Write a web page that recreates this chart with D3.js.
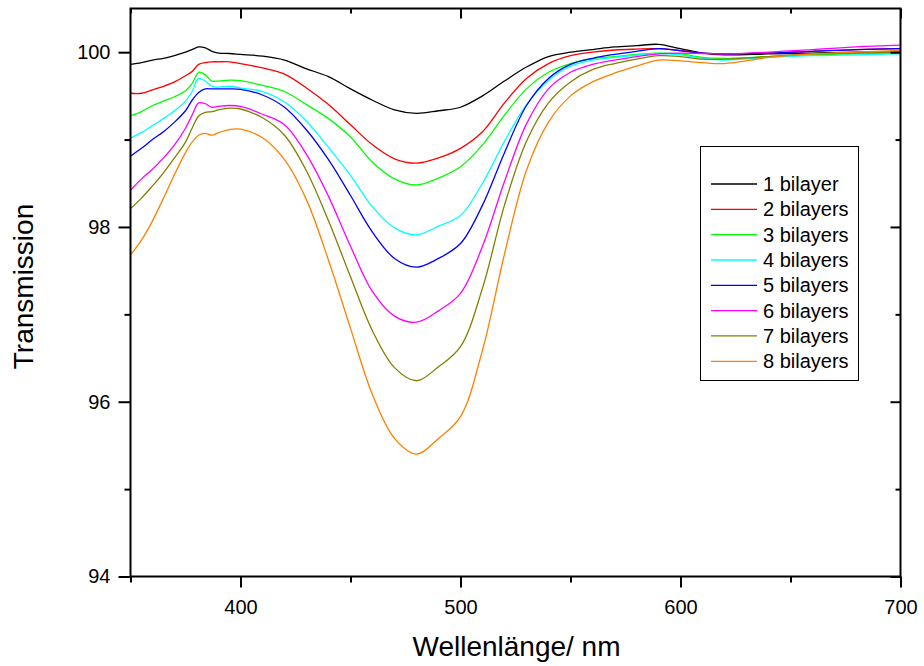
<!DOCTYPE html>
<html>
<head>
<meta charset="utf-8">
<script src="https://cdn.jsdelivr.net/npm/d3@7"></script>
<style>
  html, body { margin: 0; padding: 0; background: #fff; }
  svg { display: block; font-family: Arial, "Liberation Sans", sans-serif; }
</style>
</head>
<body>
<svg id="chart" width="924" height="666"></svg>
<script>
// Wavelength grid (nm)
const wavelengths = [350, 355, 360, 365, 370, 375, 378, 381, 384, 387, 390, 395, 400, 410, 420, 430, 440, 450, 460, 470, 480, 490, 500, 510, 520, 530, 540, 550, 560, 570, 580, 590, 600, 610, 620, 640, 660, 680, 700];

// Transmission (%) per number of bilayers
const bilayer1 = [99.86, 99.88, 99.91, 99.93, 99.96, 100.00, 100.03, 100.06, 100.05, 100.01, 99.99, 99.985, 99.975, 99.955, 99.91, 99.81, 99.72, 99.58, 99.45, 99.34, 99.30, 99.33, 99.37, 99.50, 99.67, 99.83, 99.95, 100.00, 100.03, 100.06, 100.075, 100.09, 100.04, 99.99, 99.97, 99.98, 99.99, 100.00, 100.00];
const bilayer2 = [99.53, 99.53, 99.57, 99.61, 99.66, 99.73, 99.78, 99.86, 99.88, 99.89, 99.89, 99.89, 99.87, 99.82, 99.75, 99.59, 99.40, 99.17, 98.94, 98.78, 98.73, 98.79, 98.90, 99.09, 99.42, 99.70, 99.87, 99.96, 100.00, 100.025, 100.035, 100.04, 100.02, 99.99, 99.98, 99.99, 100.01, 100.03, 100.04];
const bilayer3 = [99.27, 99.32, 99.39, 99.44, 99.49, 99.56, 99.64, 99.77, 99.74, 99.67, 99.67, 99.68, 99.675, 99.62, 99.55, 99.40, 99.24, 99.03, 98.74, 98.55, 98.48, 98.56, 98.69, 98.94, 99.28, 99.58, 99.77, 99.87, 99.925, 99.95, 99.975, 99.99, 99.98, 99.94, 99.93, 99.95, 99.97, 99.98, 99.99];
const bilayer4 = [99.02, 99.08, 99.16, 99.24, 99.33, 99.44, 99.55, 99.70, 99.67, 99.61, 99.60, 99.61, 99.59, 99.55, 99.43, 99.21, 98.91, 98.59, 98.23, 97.99, 97.91, 98.01, 98.13, 98.50, 98.98, 99.40, 99.68, 99.84, 99.91, 99.94, 99.965, 99.985, 99.97, 99.93, 99.91, 99.94, 99.96, 99.97, 99.98];
const bilayer5 = [98.81, 98.90, 99.00, 99.09, 99.20, 99.33, 99.45, 99.54, 99.58, 99.58, 99.58, 99.58, 99.575, 99.51, 99.37, 99.11, 98.77, 98.36, 97.94, 97.64, 97.54, 97.64, 97.81, 98.25, 98.85, 99.39, 99.70, 99.86, 99.93, 99.975, 100.01, 100.04, 100.015, 99.99, 99.98, 99.99, 100.01, 100.03, 100.04];
const bilayer6 = [98.42, 98.55, 98.66, 98.79, 98.94, 99.13, 99.28, 99.42, 99.41, 99.37, 99.38, 99.39, 99.38, 99.29, 99.17, 98.83, 98.35, 97.78, 97.26, 96.98, 96.91, 97.04, 97.24, 97.78, 98.52, 99.18, 99.58, 99.77, 99.86, 99.91, 99.95, 99.98, 99.99, 99.985, 99.98, 100.00, 100.03, 100.06, 100.08];
const bilayer7 = [98.21, 98.33, 98.47, 98.62, 98.79, 98.97, 99.13, 99.27, 99.31, 99.32, 99.34, 99.36, 99.35, 99.25, 99.05, 98.64, 98.07, 97.43, 96.81, 96.39, 96.24, 96.40, 96.63, 97.30, 98.25, 98.98, 99.42, 99.66, 99.80, 99.87, 99.92, 99.96, 99.95, 99.92, 99.92, 99.95, 99.98, 99.99, 100.00];
const bilayer8 = [97.68, 97.85, 98.07, 98.33, 98.60, 98.85, 98.97, 99.05, 99.07, 99.05, 99.08, 99.115, 99.12, 99.02, 98.77, 98.31, 97.62, 96.84, 96.08, 95.58, 95.40, 95.58, 95.83, 96.59, 97.69, 98.65, 99.20, 99.50, 99.66, 99.76, 99.84, 99.91, 99.90, 99.88, 99.87, 99.94, 99.98, 100.00, 100.02];

const seriesNames = ["1 bilayer", "2 bilayers", "3 bilayers", "4 bilayers", "5 bilayers", "6 bilayers", "7 bilayers", "8 bilayers"];
const seriesColors = ["#000000", "#ff0000", "#00ff00", "#00ffff", "#0000ff", "#ff00ff", "#808000", "#ff8000"];
const seriesValues = [bilayer1, bilayer2, bilayer3, bilayer4, bilayer5, bilayer6, bilayer7, bilayer8];

const xMajorTicks = [400, 500, 600, 700];
const xMinorTicks = [350, 450, 550, 650];
const yMajorTicks = [94, 96, 98, 100];
const yMinorTicks = [95, 97, 99];

const plot = { left: 130.5, right: 900.5, top: 8.5, bottom: 576.5 };

const svg = d3.select("#chart");
const x = d3.scaleLinear().domain([350, 700]).range([plot.left, plot.right]);
const y = d3.scaleLinear().domain([94, 100.5]).range([plot.bottom, plot.top]);

// Curves, clipped to the plot frame
svg.append("clipPath").attr("id", "plotClip")
  .append("rect")
  .attr("x", plot.left).attr("y", plot.top)
  .attr("width", plot.right - plot.left).attr("height", plot.bottom - plot.top);

const line = d3.line()
  .x(d => x(d[0]))
  .y(d => y(d[1]))
  .curve(d3.curveCatmullRom.alpha(0.5));

const curves = svg.append("g").attr("clip-path", "url(#plotClip)");
seriesValues.forEach((vals, i) => {
  curves.append("path")
    .datum(wavelengths.map((w, j) => [w, vals[j]]))
    .attr("fill", "none")
    .attr("stroke", seriesColors[i])
    .attr("stroke-width", 1.3)
    .attr("stroke-linejoin", "round")
    .attr("d", line);
});

// Axes: labelled bottom/left with outward ticks, mirrored top/right with inward ticks
function styleAxis(g) {
  g.select(".domain").remove();
  g.selectAll(".tick line").attr("stroke", "#000").attr("stroke-width", 2);
  g.selectAll(".tick text").attr("fill", "#000").attr("font-size", 20)
    .attr("font-family", "Arial, 'Liberation Sans', sans-serif");
}

svg.append("g").attr("transform", `translate(0,${plot.bottom})`)
  .call(d3.axisBottom(x).tickValues(xMajorTicks).tickSize(11).tickPadding(12).tickFormat(d3.format("d")))
  .call(styleAxis);
svg.append("g").attr("transform", `translate(0,${plot.bottom})`)
  .call(d3.axisBottom(x).tickValues(xMinorTicks).tickSize(6).tickFormat(""))
  .call(styleAxis);
svg.append("g").attr("transform", `translate(0,${plot.top})`)
  .call(d3.axisBottom(x).tickValues(xMajorTicks).tickSize(10).tickFormat(""))
  .call(styleAxis);
svg.append("g").attr("transform", `translate(0,${plot.top})`)
  .call(d3.axisBottom(x).tickValues(xMinorTicks).tickSize(5).tickFormat(""))
  .call(styleAxis);

svg.append("g").attr("transform", `translate(${plot.left},0)`)
  .call(d3.axisLeft(y).tickValues(yMajorTicks).tickSize(12).tickPadding(8).tickFormat(d3.format("d")))
  .call(styleAxis);
svg.append("g").attr("transform", `translate(${plot.left},0)`)
  .call(d3.axisLeft(y).tickValues(yMinorTicks).tickSize(6).tickFormat(""))
  .call(styleAxis);
svg.append("g").attr("transform", `translate(${plot.right},0)`)
  .call(d3.axisLeft(y).tickValues(yMajorTicks).tickSize(10).tickFormat(""))
  .call(styleAxis);
svg.append("g").attr("transform", `translate(${plot.right},0)`)
  .call(d3.axisLeft(y).tickValues(yMinorTicks).tickSize(5).tickFormat(""))
  .call(styleAxis);

// Frame
svg.append("rect")
  .attr("x", plot.left).attr("y", plot.top)
  .attr("width", plot.right - plot.left).attr("height", plot.bottom - plot.top)
  .attr("fill", "none").attr("stroke", "#000").attr("stroke-width", 2);

// Axis titles
svg.append("text")
  .attr("x", (plot.left + plot.right) / 2 + 1).attr("y", 656)
  .attr("text-anchor", "middle").attr("font-size", 28).attr("fill", "#000")
  .text("Wellenlänge/ nm");

svg.append("text")
  .attr("transform", `translate(33,${(plot.top + plot.bottom) / 2 - 6}) rotate(-90)`)
  .attr("text-anchor", "middle").attr("font-size", 28).attr("fill", "#000")
  .text("Transmission");

// Legend
const legend = svg.append("g");
legend.append("rect")
  .attr("x", 700.5).attr("y", 146.5).attr("width", 158).attr("height", 234)
  .attr("fill", "#fff").attr("stroke", "#000").attr("stroke-width", 1);

const rowY = d3.scalePoint().domain(seriesNames).range([184, 361.3]);
seriesNames.forEach((name, i) => {
  const yy = rowY(name);
  legend.append("line")
    .attr("x1", 711).attr("x2", 757).attr("y1", yy).attr("y2", yy)
    .attr("stroke", seriesColors[i]).attr("stroke-width", 1.3);
  legend.append("text")
    .attr("x", 763).attr("y", yy + 7)
    .attr("font-size", 20).attr("fill", "#000")
    .text(name);
});
</script>
</body>
</html>
